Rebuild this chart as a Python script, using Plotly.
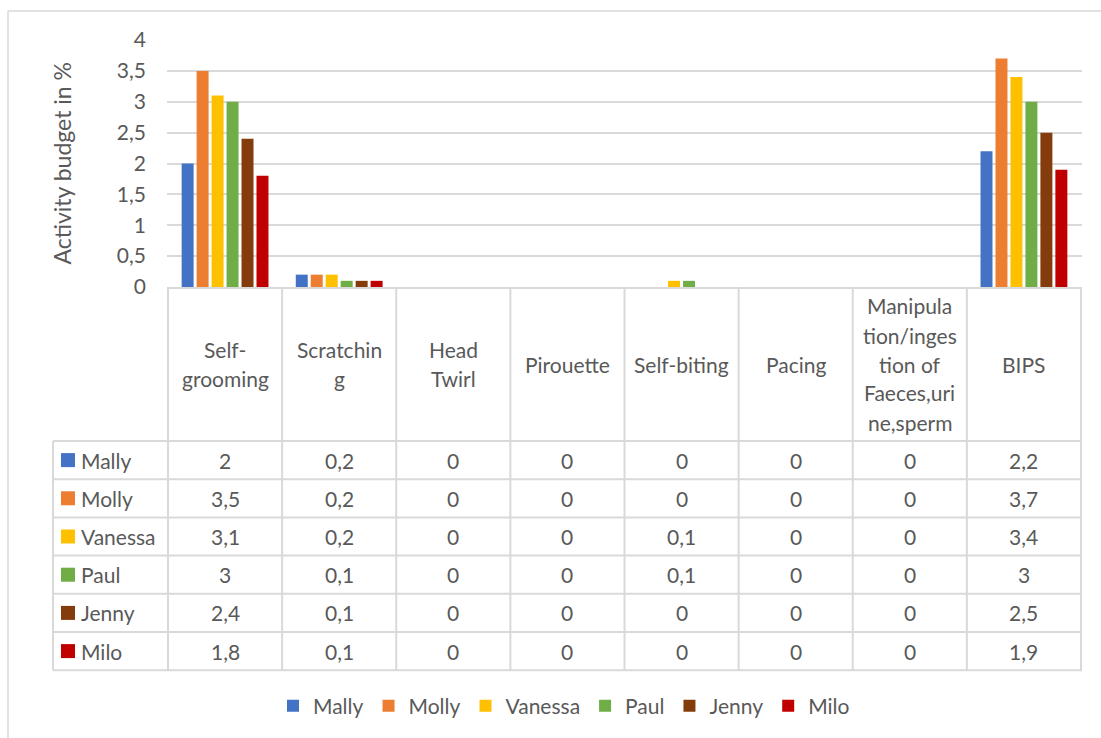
import plotly.graph_objects as go

# ---------------- data ----------------
categories = ["Self-grooming", "Scratching", "Head Twirl", "Pirouette", "Self-biting",
              "Pacing", "Manipulation/ingestion of Faeces,urine,sperm", "BIPS"]
header_lines = [["Self-", "grooming"], ["Scratchin", "g"], ["Head", "Twirl"], ["Pirouette"],
                ["Self-biting"], ["Pacing"],
                ["Manipula", "tion/inges", "tion of", "Faeces,uri", "ne,sperm"], ["BIPS"]]
series_names = ["Mally", "Molly", "Vanessa", "Paul", "Jenny", "Milo"]
mally = [2, 0.2, 0, 0, 0, 0, 0, 2.2]
molly = [3.5, 0.2, 0, 0, 0, 0, 0, 3.7]
vanessa = [3.1, 0.2, 0, 0, 0.1, 0, 0, 3.4]
paul = [3, 0.1, 0, 0, 0.1, 0, 0, 3]
jenny = [2.4, 0.1, 0, 0, 0, 0, 0, 2.5]
milo = [1.8, 0.1, 0, 0, 0, 0, 0, 1.9]
series_values = [mally, molly, vanessa, paul, jenny, milo]
colors = ["#4472C4", "#ED7D31", "#FFC000", "#70AD47", "#843C0C", "#C00000"]
y_tick_vals = [0, 0.5, 1, 1.5, 2, 2.5, 3, 3.5, 4]
y_tick_text = ["0", "0,5", "1", "1,5", "2", "2,5", "3", "3,5", "4"]
y_title = "Activity budget in %"

# ---------------- layout constants ----------------
W, H = 1101, 738
PX0, PX1 = 167, 1082      # plot area left/right
PY_TOP, PY_BOT = 40, 287  # plot area top/bottom
TBL_LEFT = 53
ROW_TOP = 441
ROW_H = 38.2
HEADER_MID = 364
LINE_SP = 29
FONT = "Lato"
TXT = "#595959"
GRID = "#D9D9D9"
FS = 21


def fx(x):
    return x / W


def fy(y):
    return 1 - y / H


def fmt(v):
    s = ("%g" % v)
    return s.replace(".", ",")


fig = go.Figure()
for name, vals, col in zip(series_names, series_values, colors):
    fig.add_trace(go.Bar(x=categories, y=vals, name=name, marker=dict(color=col, line=dict(width=0))))

shapes = []
annotations = []

# outer chart border (top & left visible)
shapes.append(dict(type="line", xref="paper", yref="paper", x0=fx(8), x1=fx(W + 5), y0=fy(11), y1=fy(11),
                   line=dict(color=GRID, width=1.5)))
shapes.append(dict(type="line", xref="paper", yref="paper", x0=fx(8), x1=fx(8), y0=fy(11), y1=fy(H + 5),
                   line=dict(color=GRID, width=1.5)))

n_cat = len(categories)
n_rows = len(series_names)
table_bottom = ROW_TOP + ROW_H * n_rows

# vertical lines of the data table (category columns)
for k in range(n_cat + 1):
    shapes.append(dict(type="line", xref="x", yref="paper", x0=k - 0.5, x1=k - 0.5,
                       y0=fy(PY_BOT), y1=fy(table_bottom), line=dict(color=GRID, width=2)))
# left column vertical line
shapes.append(dict(type="line", xref="paper", yref="paper", x0=fx(TBL_LEFT), x1=fx(TBL_LEFT),
                   y0=fy(ROW_TOP), y1=fy(table_bottom), line=dict(color=GRID, width=2)))
# horizontal row lines
for i in range(n_rows + 1):
    yy = ROW_TOP + ROW_H * i
    shapes.append(dict(type="line", xref="paper", yref="paper", x0=fx(TBL_LEFT), x1=fx(PX1),
                       y0=fy(yy), y1=fy(yy), line=dict(color=GRID, width=2)))

# header labels
for cat, lines in zip(categories, header_lines):
    n = len(lines)
    for j, ln in enumerate(lines):
        yc = HEADER_MID + (j - (n - 1) / 2) * LINE_SP
        annotations.append(dict(x=cat, xref="x", y=fy(yc), yref="paper", text=ln, showarrow=False,
                                xanchor="center", yanchor="middle",
                                font=dict(family=FONT, size=FS, color=TXT)))

# rows: legend keys, names, values
for i, (name, vals, col) in enumerate(zip(series_names, series_values, colors)):
    yc = ROW_TOP + ROW_H * (i + 0.5)
    shapes.append(dict(type="rect", xref="paper", yref="paper", x0=fx(61), x1=fx(75),
                       y0=fy(yc - 7), y1=fy(yc + 7), fillcolor=col, line=dict(width=0)))
    annotations.append(dict(x=fx(79), xref="paper", y=fy(yc), yref="paper", text=name, showarrow=False,
                            xanchor="left", yanchor="middle", font=dict(family=FONT, size=FS, color=TXT)))
    for cat, v in zip(categories, vals):
        annotations.append(dict(x=cat, xref="x", y=fy(yc), yref="paper", text=fmt(v), showarrow=False,
                                xanchor="center", yanchor="middle",
                                font=dict(family=FONT, size=FS, color=TXT)))

# y-axis title
annotations.append(dict(x=fx(61), xref="paper", y=fy((PY_TOP + PY_BOT) / 2), yref="paper", text=y_title,
                        textangle=-90, showarrow=False, xanchor="center", yanchor="middle",
                        font=dict(family=FONT, size=23, color=TXT)))

fig.update_layout(
    width=W, height=H,
    margin=dict(l=0, r=0, t=0, b=0, autoexpand=False),
    paper_bgcolor="white", plot_bgcolor="white",
    barmode="group", bargap=0.213, bargroupgap=0.2,
    font=dict(family=FONT, size=FS, color=TXT),
    xaxis=dict(domain=[fx(PX0), fx(PX1)], showticklabels=False, showgrid=False, automargin=False,
               showline=True, linecolor=GRID, linewidth=2, ticks="", zeroline=False),
    yaxis=dict(domain=[fy(PY_BOT), fy(PY_TOP)], range=[0, 4], tickvals=y_tick_vals, ticktext=y_tick_text,
               showgrid=True, gridcolor=GRID, gridwidth=1.5, zeroline=False, showline=False, automargin=False,
               ticks="", ticklabelstandoff=20, tickfont=dict(family=FONT, size=21, color=TXT)),
    legend=dict(orientation="h", x=fx(564), xanchor="center", y=fy(706), yanchor="middle",
                font=dict(family=FONT, size=FS, color=TXT), traceorder="normal"),
    shapes=shapes, annotations=annotations,
)

fig.write_html("out.html", config={"displayModeBar": False},
               post_script="document.body.style.margin='0px';document.body.style.overflow='hidden';")
